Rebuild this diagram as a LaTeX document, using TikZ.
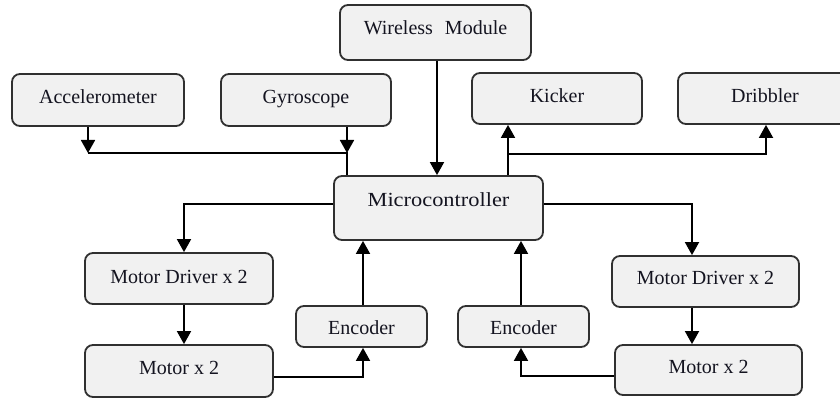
\documentclass[tikz,border=0pt]{standalone}
\usepackage{fontspec}
\setmainfont{Liberation Serif}
\usetikzlibrary{arrows.meta}
\definecolor{boxfill}{HTML}{F1F1F1}
\definecolor{boxline}{HTML}{303030}
\definecolor{txt}{HTML}{141420}
\begin{document}
\begin{tikzpicture}[x=1pt,y=-1pt,
  blk/.style={draw=boxline, fill=boxfill, line width=1.8pt, rounded corners=8pt,
    inner sep=0pt, text=txt, font=\fontsize{20}{22}\selectfont,
    text height=16pt, text depth=#1},
  blk/.default=8.8pt,
  arr/.style={line width=1.8pt, -{Triangle[width=14pt,length=13pt]}},
  ln/.style={line width=1.8pt}]
\useasboundingbox (0,0) rectangle (840,398);
% boxes
\node[blk=12.8pt, minimum width=191pt, minimum height=55pt] (wm) at (435.5,32.5) {Wireless\hspace{0.6em}Module};
\node[blk, minimum width=172pt, minimum height=52pt] (acc) at (98,100) {Accelerometer};
\node[blk, minimum width=170pt, minimum height=52pt] (gyr) at (306,100) {Gyroscope};
\node[blk, minimum width=170pt, minimum height=51pt] (kick) at (557,98.5) {Kicker};
\node[blk, minimum width=174pt, minimum height=51pt] (drib) at (765,98.5) {Dribbler};
\node[blk=18.2pt, minimum width=209pt, minimum height=64pt] (mcu) at (438.5,208) {\addfontfeatures{FakeStretch=1.12}Microcontroller};
\node[blk=6.4pt, minimum width=188pt, minimum height=51pt] (mdl) at (179,278.5) {Motor Driver x 2};
\node[blk=8.2pt, minimum width=188pt, minimum height=52pt] (ml) at (179,371) {Motor x 2};
\node[blk=0.2pt, minimum width=131pt, minimum height=41pt] (encl) at (361.5,326.5) {Encoder};
\node[blk=0.2pt, minimum width=131pt, minimum height=41pt] (encr) at (523.5,326.5) {Encoder};
\node[blk=9.2pt, minimum width=187pt, minimum height=51pt] (mdr) at (705.5,281.5) {Motor Driver x 2};
\node[blk=8.2pt, minimum width=187pt, minimum height=50pt] (mr) at (708.5,370) {Motor x 2};
% junction points
\coordinate (j1) at (88,153);
\coordinate (j2) at (347,153);
\coordinate (j3) at (508,154);
\coordinate (j4) at (766,154);
\coordinate (j5) at (184,204);
\coordinate (j6) at (363,377);
\coordinate (j7) at (692,204);
\coordinate (j8) at (521,376);
\coordinate (jw) at (437,0);
% sensors to microcontroller
\draw[arr] (acc.south -| j1) -- (j1);
\draw[arr] (gyr.south -| j2) -- (j2);
\draw[ln] (j1) -- (j2) -- (mcu.north -| j2);
\draw[arr] (wm.south -| jw) -- (mcu.north -| jw);
% actuators
\draw[arr] (mcu.north -| j3) -- (kick.south -| j3);
\draw[arr] (j3) -- (j4) -- (drib.south -| j4);
% left motors
\draw[arr] (mcu.west |- j5) -- (j5) -- (mdl.north -| j5);
\draw[arr] (mdl.south -| j5) -- (ml.north -| j5);
\draw[arr] (ml.east |- j6) -- (j6) -- (encl.south -| j6);
\draw[arr] (encl.north -| j6) -- (mcu.south -| j6);
% right motors
\draw[arr] (mcu.east |- j7) -- (j7) -- (mdr.north -| j7);
\draw[arr] (mdr.south -| j7) -- (mr.north -| j7);
\draw[arr] (mr.west |- j8) -- (j8) -- (encr.south -| j8);
\draw[arr] (encr.north -| j8) -- (mcu.south -| j8);
\end{tikzpicture}
\end{document}
